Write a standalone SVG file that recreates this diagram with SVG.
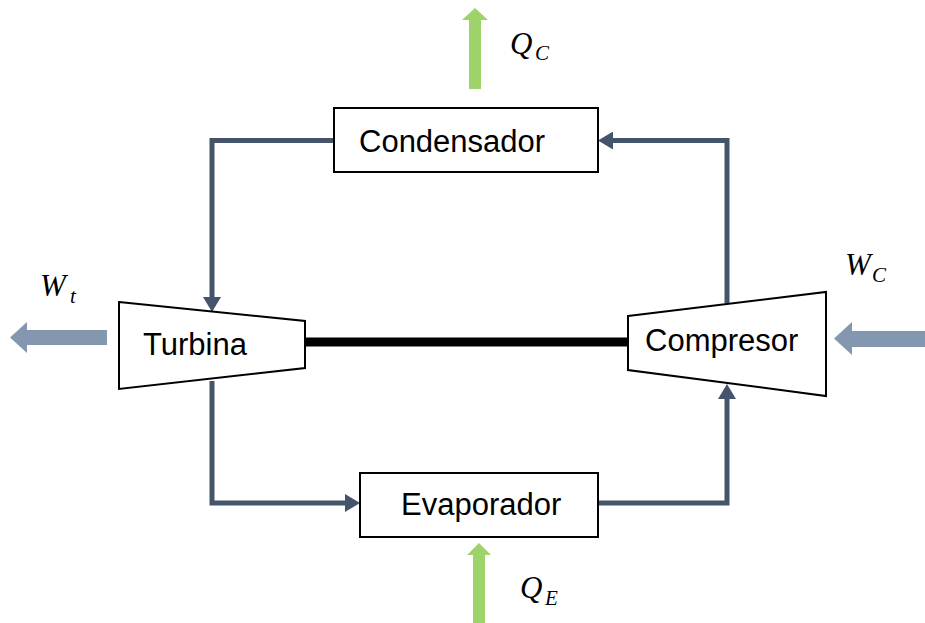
<svg xmlns="http://www.w3.org/2000/svg" width="925" height="623" viewBox="0 0 925 623">
  <style>
    .box { fill: #ffffff; stroke: #000000; stroke-width: 2; }
    .label { font-family: "Liberation Sans", Arial, sans-serif; font-size: 31px; fill: #000000; }
    .math { font-family: "Liberation Serif", "Times New Roman", serif; font-style: italic; fill: #000000; }
    .big { font-size: 31px; }
    .sub { font-size: 21px; }
    .flow { fill: none; stroke: #44546A; stroke-width: 5; marker-end: url(#head); }
    .heat { fill: #9ED36A; }
    .work { fill: #8497B0; }
  </style>
  <defs>
    <marker id="head" viewBox="0 0 15 18" markerWidth="15" markerHeight="18" refX="3" refY="9" markerUnits="userSpaceOnUse" orient="auto">
      <path d="M0,0 L15,9 L0,18 z" fill="#44546A"/>
    </marker>
  </defs>

  <!-- shaft between turbine and compressor -->
  <line x1="300" y1="342" x2="632" y2="342" stroke="#000000" stroke-width="9"/>

  <!-- refrigerant flow lines -->
  <g id="connectors">
    <path class="flow" d="M334,140.5 H212 V300"/>
    <path class="flow" d="M727,303 V140.5 H610"/>
    <path class="flow" d="M212,381 V503 H348"/>
    <path class="flow" d="M598,503 H727 V396"/>
  </g>

  <g id="condensador">
    <rect class="box" x="334" y="108" width="264" height="64"/>
    <text class="label" x="359" y="152">Condensador</text>
  </g>

  <g id="evaporador">
    <rect class="box" x="360" y="473" width="238" height="64"/>
    <text class="label" x="401" y="515">Evaporador</text>
  </g>

  <g id="turbina">
    <polygon class="box" points="119,302 305,321 305,368 119,389"/>
    <text class="label" x="143" y="355">Turbina</text>
  </g>

  <g id="compresor">
    <polygon class="box" points="628,316 826,292 826,396 628,370"/>
    <text class="label" x="645" y="351">Compresor</text>
  </g>

  <!-- heat rejected at the condenser -->
  <g id="qc">
    <polygon class="heat" points="469,89 469,20 462,20 475,8 488,20 481,20 481,89"/>
    <text class="math big" x="510" y="54">Q</text>
    <text class="math sub" x="535" y="60">C</text>
  </g>

  <!-- heat absorbed at the evaporator -->
  <g id="qe">
    <polygon class="heat" points="473,623 473,555 467,555 479,543 491,555 485,555 485,623"/>
    <text class="math big" x="520" y="598">Q</text>
    <text class="math sub" x="545" y="605">E</text>
  </g>

  <!-- turbine work output -->
  <g id="wt">
    <polygon class="work" points="107,330 27,330 27,322 10,337.5 27,353 27,345 107,345"/>
    <text class="math big" x="40" y="296">W</text>
    <text class="math sub" x="70" y="303">t</text>
  </g>

  <!-- compressor work input -->
  <g id="wc">
    <polygon class="work" points="925,331 852,331 852,322 834,338.5 852,355 852,347 925,347"/>
    <text class="math big" x="845" y="275">W</text>
    <text class="math sub" x="872" y="282">C</text>
  </g>
</svg>
